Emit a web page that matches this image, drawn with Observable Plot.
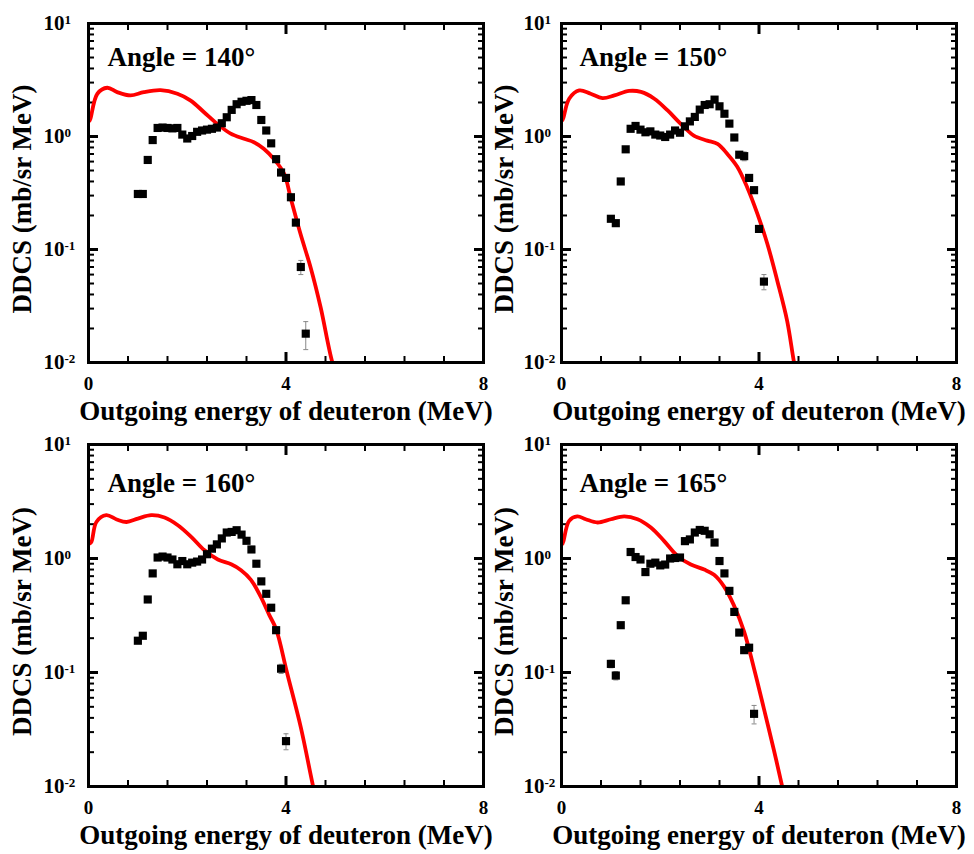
<!DOCTYPE html>
<html>
<head>
<meta charset="utf-8">
<script src="https://cdn.jsdelivr.net/npm/d3@7"></script>
<script src="https://cdn.jsdelivr.net/npm/@observablehq/plot@0.6"></script>
<style>
html, body { margin: 0; padding: 0; background: #fff; }
#chart { position: relative; width: 974px; height: 854px; overflow: hidden; background: #fff; }
.panel { position: absolute; width: 487px; height: 427px; }
.panel svg { overflow: visible; background: transparent; }
</style>
</head>
<body>
<div id="chart"></div>
<script>
// ---------------- data ----------------
const angles = [140, 150, 160, 165];

const energy140 = [1.0,1.1,1.2,1.3,1.4,1.5,1.6,1.7,1.8,1.9,2.0,2.1,2.2,2.3,2.4,2.5,2.6,2.7,2.8,2.9,3.0,3.1,3.2,3.3,3.4,3.5,3.6,3.7,3.8,3.9,4.0,4.1,4.2,4.3,4.4];
const ddcs140   = [0.31,0.31,0.62,0.93,1.19,1.20,1.19,1.18,1.19,1.04,0.96,1.01,1.10,1.13,1.15,1.17,1.20,1.31,1.48,1.72,1.93,2.03,2.07,2.10,1.90,1.40,1.13,0.87,0.63,0.48,0.43,0.29,0.173,0.070,0.018];
const err140    = [0.01,0.01,0.015,0.02,0.02,0.02,0.02,0.02,0.02,0.02,0.02,0.02,0.02,0.02,0.02,0.02,0.02,0.02,0.03,0.03,0.03,0.03,0.03,0.03,0.03,0.03,0.02,0.02,0.02,0.02,0.02,0.015,0.01,0.01,0.005];

const energy150 = [1.0,1.1,1.2,1.3,1.4,1.5,1.6,1.7,1.8,1.9,2.0,2.1,2.2,2.3,2.4,2.5,2.6,2.7,2.8,2.9,3.0,3.1,3.2,3.3,3.4,3.5,3.6,3.7,3.8,3.9,4.0,4.1];
const ddcs150   = [0.187,0.171,0.40,0.77,1.17,1.24,1.15,1.09,1.11,1.04,1.02,0.99,1.04,1.13,1.08,1.23,1.36,1.49,1.73,1.90,1.93,2.12,1.85,1.59,1.30,0.98,0.69,0.67,0.43,0.335,0.152,0.052];
const err150    = [0.01,0.01,0.015,0.02,0.02,0.02,0.02,0.02,0.02,0.02,0.02,0.02,0.02,0.02,0.02,0.02,0.03,0.03,0.03,0.03,0.03,0.03,0.03,0.03,0.03,0.03,0.03,0.06,0.02,0.02,0.01,0.008];

const energy160 = [1.0,1.1,1.2,1.3,1.4,1.5,1.6,1.7,1.8,1.9,2.0,2.1,2.2,2.3,2.4,2.5,2.6,2.7,2.8,2.9,3.0,3.1,3.2,3.3,3.4,3.5,3.6,3.7,3.8,3.9,4.0];
const ddcs160   = [0.19,0.21,0.437,0.74,1.02,1.04,1.02,0.98,0.89,0.95,0.89,0.92,0.94,0.98,1.09,1.22,1.33,1.50,1.69,1.71,1.77,1.62,1.43,1.20,0.90,0.63,0.49,0.37,0.235,0.108,0.025];
const err160    = [0.01,0.01,0.015,0.02,0.02,0.02,0.02,0.02,0.02,0.02,0.02,0.02,0.02,0.02,0.02,0.02,0.03,0.03,0.03,0.03,0.03,0.03,0.03,0.03,0.02,0.02,0.02,0.02,0.015,0.01,0.004];

const energy165 = [1.0,1.1,1.2,1.3,1.4,1.5,1.6,1.7,1.8,1.9,2.0,2.1,2.2,2.3,2.4,2.5,2.6,2.7,2.8,2.9,3.0,3.1,3.2,3.3,3.4,3.5,3.6,3.7,3.8,3.9];
const ddcs165   = [0.119,0.094,0.26,0.43,1.14,1.03,0.98,0.76,0.90,0.92,0.87,0.885,1.0,1.01,1.02,1.42,1.47,1.69,1.78,1.75,1.63,1.38,0.95,0.74,0.52,0.34,0.224,0.157,0.165,0.0434];
const err165    = [0.009,0.008,0.012,0.02,0.02,0.02,0.02,0.02,0.02,0.02,0.02,0.02,0.02,0.02,0.02,0.03,0.03,0.03,0.03,0.03,0.03,0.03,0.02,0.02,0.02,0.015,0.01,0.01,0.01,0.008];

// calculated curves (red)
const curveE140 = [0.02,0.04,0.18,0.38,0.58,0.85,1.12,1.46,1.80,2.07,2.34,2.61,2.88,3.15,3.35,3.55,3.75,3.96,4.10,4.29,4.50,4.70,4.94,5.05];
const curveV140 = [1.38,1.44,2.39,2.70,2.47,2.31,2.47,2.57,2.39,2.08,1.64,1.29,1.06,0.955,0.89,0.78,0.635,0.47,0.28,0.139,0.069,0.031,0.010,0.0075];

const curveE150 = [0.02,0.04,0.155,0.36,0.59,0.83,1.07,1.37,1.61,1.88,2.15,2.41,2.68,2.95,3.16,3.36,3.56,3.76,3.97,4.17,4.37,4.57,4.71,4.80];
const curveV150 = [1.40,1.47,2.16,2.56,2.39,2.19,2.31,2.53,2.48,2.16,1.70,1.30,1.02,0.92,0.86,0.70,0.54,0.356,0.206,0.112,0.053,0.0234,0.010,0.0065];

const curveE160 = [0.02,0.06,0.16,0.36,0.57,0.77,1.00,1.27,1.54,1.81,2.08,2.35,2.62,2.89,3.09,3.29,3.49,3.66,3.80,4.02,4.30,4.55,4.65];
const curveV160 = [1.35,1.40,2.09,2.40,2.20,2.09,2.24,2.40,2.29,1.96,1.55,1.18,0.98,0.89,0.79,0.65,0.46,0.32,0.24,0.10,0.033,0.010,0.0065];

const curveE165 = [0.02,0.04,0.155,0.32,0.49,0.73,1.00,1.27,1.54,1.81,2.08,2.35,2.62,2.89,3.09,3.29,3.49,3.70,3.90,4.10,4.30,4.47,4.55];
const curveV165 = [1.35,1.42,2.14,2.34,2.21,2.07,2.21,2.34,2.21,1.87,1.42,1.05,0.885,0.80,0.72,0.57,0.39,0.227,0.108,0.048,0.021,0.010,0.007];

// axis ticks and labels
const xMajorTicks = [0, 4, 8];
const xMinorTicks = [0.8, 1.6, 2.4, 3.2, 4.8, 5.6, 6.4, 7.2];
const yMajorTicks = [0.01, 0.1, 1, 10];
const yMajorExponents = ["-2", "-1", "0", "1"];
const yMinorTicks = [0.02,0.03,0.04,0.05,0.06,0.07,0.08,0.09,0.2,0.3,0.4,0.5,0.6,0.7,0.8,0.9,2,3,4,5,6,7,8,9];
const xLabel = "Outgoing energy of deuteron (MeV)";
const yLabel = "DDCS (mb/sr MeV)";

// ---------------- layout ----------------
const series = [
  {E: energy140, V: ddcs140, err: err140, cE: curveE140, cV: curveV140},
  {E: energy150, V: ddcs150, err: err150, cE: curveE150, cV: curveV150},
  {E: energy160, V: ddcs160, err: err160, cE: curveE160, cV: curveV160},
  {E: energy165, V: ddcs165, err: err165, cE: curveE165, cV: curveV165}
];
const layout = [
  {left: 0,   top: 0,   mL: 88, mR: 4,  mT: 23, mB: 65, yLabDx: -66, yTickDx: -45, angDx: 19, angDy: 34},
  {left: 487, top: 0,   mL: 74, mR: 18, mT: 23, mB: 65, yLabDx: -57, yTickDx: -38, angDx: 18, angDy: 34},
  {left: 0,   top: 427, mL: 88, mR: 4,  mT: 17, mB: 68, yLabDx: -66, yTickDx: -45, angDx: 19, angDy: 39},
  {left: 487, top: 427, mL: 74, mR: 18, mT: 17, mB: 68, yLabDx: -57, yTickDx: -38, angDx: 18, angDy: 39}
];

const FONT = '"Liberation Serif", "Times New Roman", Times, serif';
const capSymbol = { draw(ctx) { ctx.moveTo(-2.5, 0); ctx.lineTo(2.5, 0); } };

const chart = document.getElementById("chart");

angles.forEach((angle, i) => {
  const s = series[i], L = layout[i];
  const pts = s.E.map((e, k) => ({E: e, V: s.V[k], err: s.err[k]}));
  const curve = s.cE.map((e, k) => ({E: e, V: s.cV[k]}));
  const yTicks = yMajorTicks.map((v, k) => ({v, t: "10^" + yMajorExponents[k]}));

  const svg = Plot.plot({
    width: 487,
    height: 427,
    marginLeft: L.mL, marginRight: L.mR, marginTop: L.mT, marginBottom: L.mB,
    style: {fontFamily: FONT, fontWeight: "bold", color: "black", background: "transparent", overflow: "visible"},
    x: {domain: [0, 8], axis: null, label: null},
    y: {type: "log", domain: [0.01, 10], axis: null, label: null},
    marks: [
      // ticks (inward, on all four sides)
      Plot.axisX({ticks: xMinorTicks, anchor: "bottom", tickSize: -6, strokeWidth: 2, tickFormat: () => "", label: null}),
      Plot.axisX({ticks: xMinorTicks, anchor: "top", tickSize: -6, strokeWidth: 2, tickFormat: () => "", label: null}),
      Plot.axisX({ticks: xMajorTicks, anchor: "bottom", tickSize: -10, strokeWidth: 3, tickFormat: () => "", label: null}),
      Plot.axisX({ticks: xMajorTicks, anchor: "top", tickSize: -10, strokeWidth: 3, tickFormat: () => "", label: null}),
      Plot.axisY({ticks: yMinorTicks, anchor: "left", tickSize: -6, strokeWidth: 2, tickFormat: () => "", label: null}),
      Plot.axisY({ticks: yMinorTicks, anchor: "right", tickSize: -6, strokeWidth: 2, tickFormat: () => "", label: null}),
      Plot.axisY({ticks: yMajorTicks, anchor: "left", tickSize: -10, strokeWidth: 3, tickFormat: () => "", label: null}),
      Plot.axisY({ticks: yMajorTicks, anchor: "right", tickSize: -10, strokeWidth: 3, tickFormat: () => "", label: null}),
      // tick labels
      Plot.text(xMajorTicks, {x: d => d, text: d => String(d), frameAnchor: "bottom", dy: 21, lineAnchor: "middle", fontSize: 19, fontWeight: "bold", fill: "black"}),
      Plot.text(yTicks, {y: "v", text: "t", frameAnchor: "left", textAnchor: "start", dx: L.yTickDx, lineAnchor: "middle", fontSize: 21, fontWeight: "bold", fill: "black"}),
      // axis labels
      Plot.text([xLabel], {text: d => d, frameAnchor: "bottom", textAnchor: "middle", dy: 49, lineAnchor: "middle", fontSize: 27, fontWeight: "bold", fill: "black"}),
      Plot.text([yLabel], {text: d => d, frameAnchor: "left", textAnchor: "middle", rotate: -90, dx: L.yLabDx, dy: 6, lineAnchor: "middle", fontSize: 27, fontWeight: "bold", fill: "black"}),
      // angle annotation
      Plot.text([`Angle = ${angle}\u00b0`], {text: d => d, frameAnchor: "top-left", textAnchor: "start", dx: L.angDx, dy: L.angDy, lineAnchor: "middle", fontSize: 27, fontWeight: "bold", fill: "black"}),
      // data
      Plot.line(curve, {x: "E", y: "V", stroke: "#ff0000", strokeWidth: 3.8, curve: "catmull-rom", clip: true}),
      Plot.ruleX(pts, {x: "E", y1: d => d.V - d.err, y2: d => d.V + d.err, stroke: "#888", strokeWidth: 1}),
      Plot.dot(pts, {x: "E", y: d => d.V - d.err, symbol: capSymbol, stroke: "#888", strokeWidth: 1, r: 2}),
      Plot.dot(pts, {x: "E", y: d => d.V + d.err, symbol: capSymbol, stroke: "#888", strokeWidth: 1, r: 2}),
      Plot.dot(pts, {x: "E", y: "V", symbol: "square", r: 4.6, fill: "black", stroke: "none"}),
      Plot.frame({stroke: "black", strokeWidth: 3})
    ]
  });

  // superscript exponents on the y tick labels
  svg.querySelectorAll("text").forEach(t => {
    const m = /^10\^(.+)$/.exec(t.textContent);
    if (!m) return;
    t.textContent = "10";
    const ts = document.createElementNS("http://www.w3.org/2000/svg", "tspan");
    ts.setAttribute("dy", "-0.45em");
    ts.setAttribute("font-size", "0.62em");
    ts.textContent = m[1];
    t.appendChild(ts);
  });

  const div = document.createElement("div");
  div.className = "panel";
  div.style.left = L.left + "px";
  div.style.top = L.top + "px";
  div.appendChild(svg);
  chart.appendChild(div);
});
</script>
</body>
</html>
